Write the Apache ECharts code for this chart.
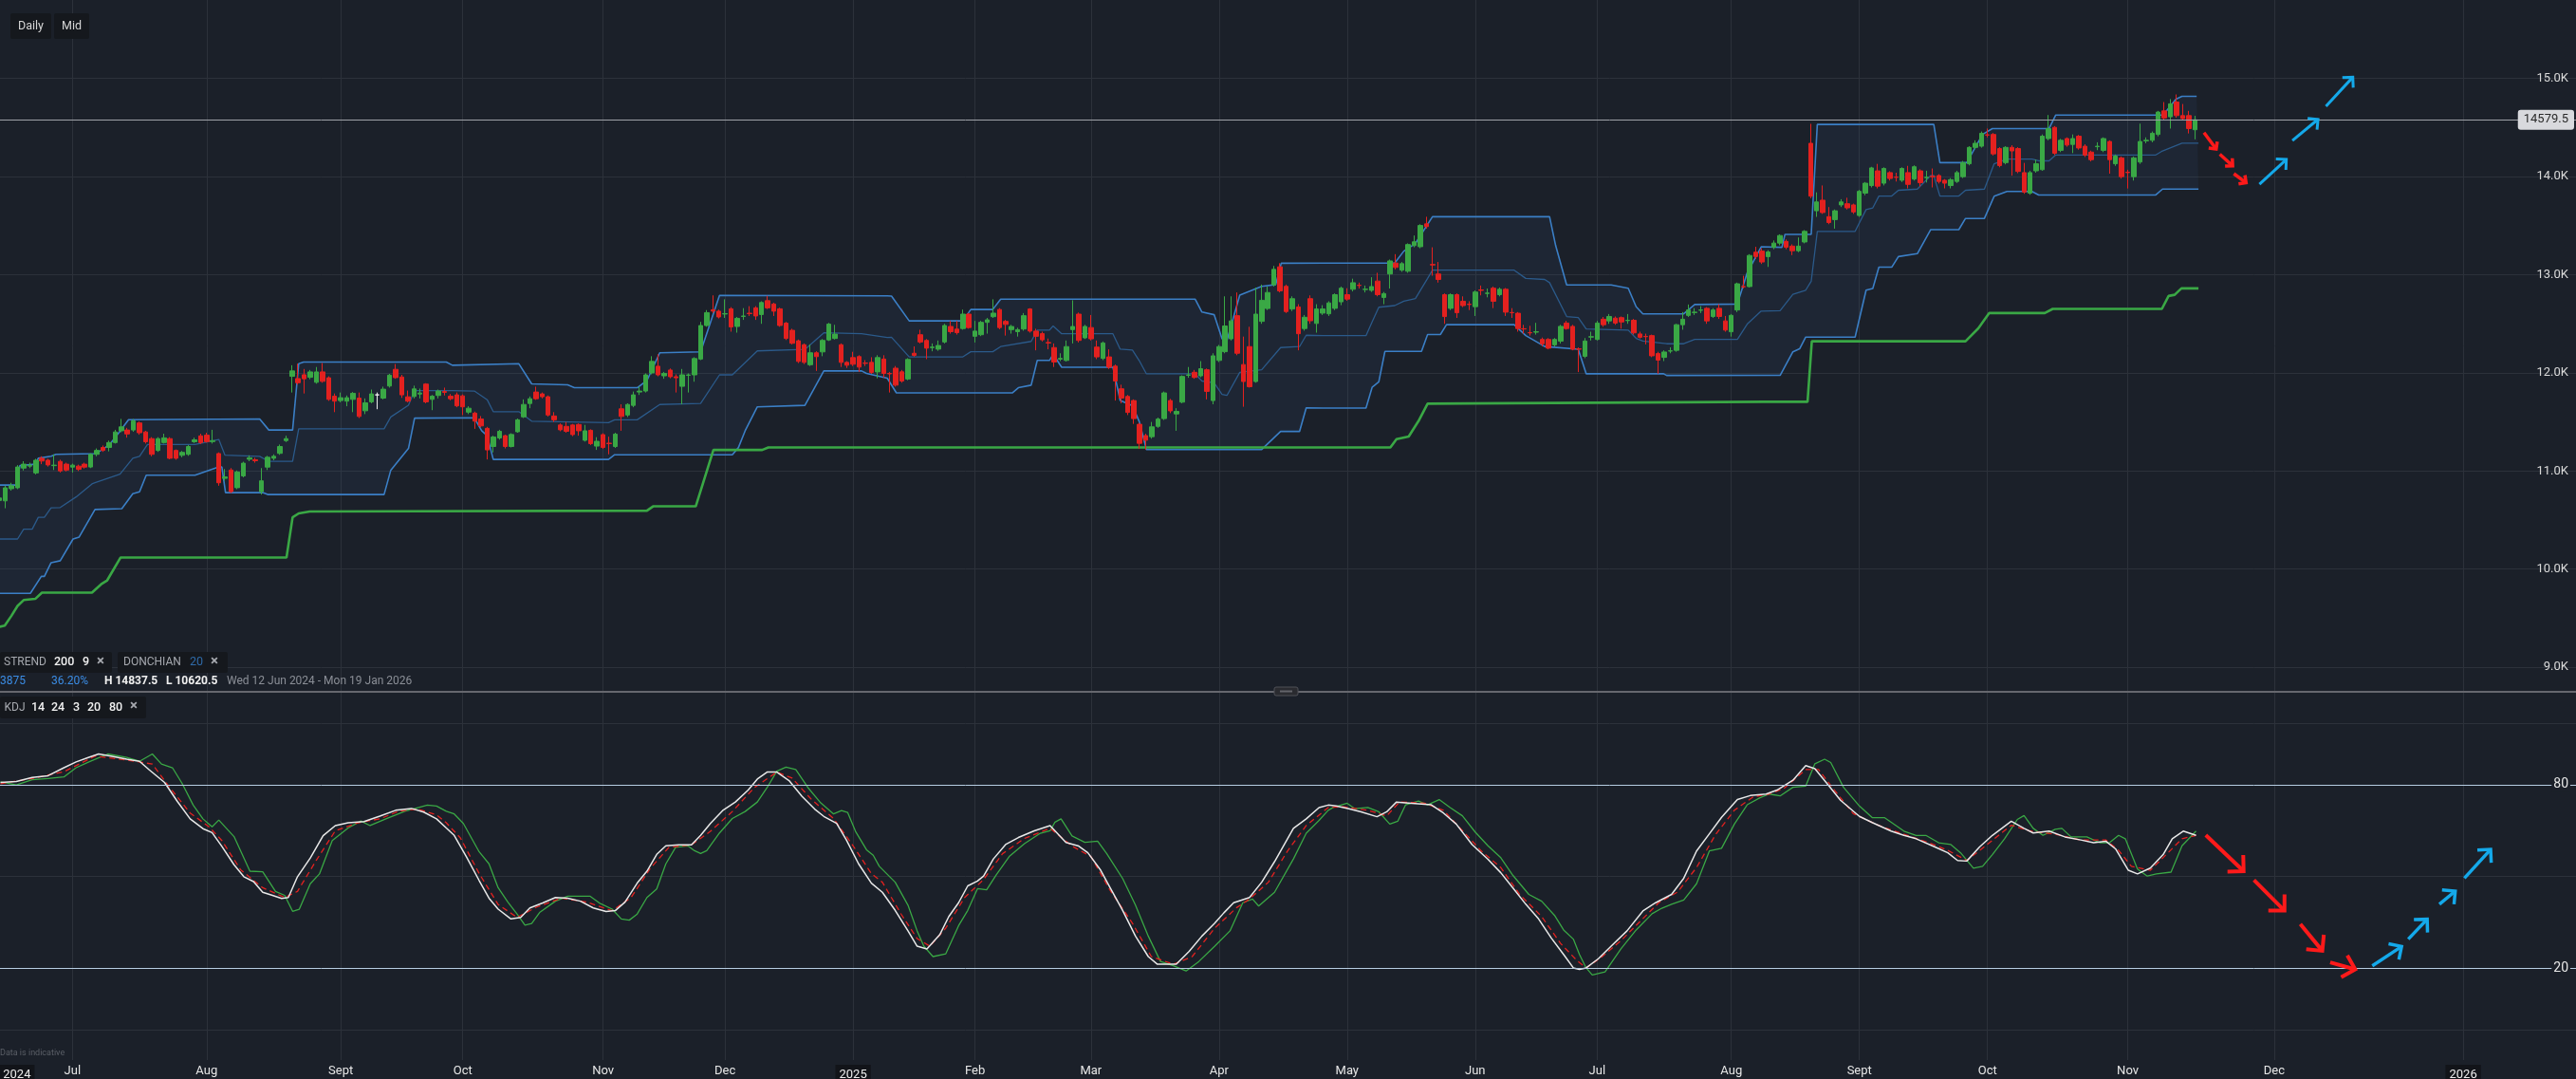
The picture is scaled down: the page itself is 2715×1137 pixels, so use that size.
<!DOCTYPE html>
<html>
<head>
<meta charset="utf-8">
<title>Daily Mid - STREND / DONCHIAN / KDJ</title>
<script src="https://cdn.jsdelivr.net/npm/echarts@6/dist/echarts.min.js"></script>
<style>
  html, body { margin: 0; padding: 0; background: #1b2029; }
  #chart { width: 2715px; height: 1137px; }
</style>
</head>
<body>
<div id="chart"></div>
<script>
// axis calendar: trading days up to the last candle, then plain calendar days for the projection
const firstDay = '2024-06-12';
const lastCandleDay = '2025-11-18';
const lastAxisDay = '2026-01-19';
const holidays = ['2024-06-19', '2024-07-04', '2024-09-02', '2024-11-28', '2024-12-25', '2025-01-01', '2025-01-09',
  '2025-01-20', '2025-02-17', '2025-04-18', '2025-05-26', '2025-06-19', '2025-07-04', '2025-09-01'];
const monthNames = ['Jan', 'Feb', 'Mar', 'Apr', 'May', 'Jun', 'Jul', 'Aug', 'Sept', 'Oct', 'Nov', 'Dec'];

// daily candles (mid prices), one value per trading day
const opens = [
  10700, 10696, 10820, 10829, 11030, 11050, 10981, 11130, 11110, 11055,
  11098, 11070, 11040, 11050, 11070, 11041, 11170, 11240, 11240, 11290,
  11410, 11418, 11418, 11490, 11398, 11330, 11210, 11290, 11330, 11210,
  11160, 11170, 11298, 11358, 11365, 11300, 11178, 10925, 11010, 10830,
  10950, 11120, 11115, 10790, 11040, 11130, 11180, 11310, 11965, 11942,
  11981, 11955, 11904, 12010, 11950, 11763, 11718, 11712, 11730, 11743,
  11614, 11705, 11776, 11743, 11866, 12036, 11958, 11756, 11760, 11785,
  11886, 11730, 11770, 11810, 11763, 11776, 11766, 11600, 11590, 11530,
  11435, 11250, 11337, 11360, 11250, 11400, 11552, 11688, 11805, 11786,
  11757, 11561, 11469, 11455, 11469, 11474, 11313, 11415, 11254, 11371,
  11284, 11250, 11634, 11571, 11669, 11805, 11815, 12000, 12068, 11970,
  12029, 11961, 11863, 11975, 11980, 12141, 12483, 12643, 12629, 12600,
  12653, 12473, 12575, 12608, 12663, 12595, 12736, 12702, 12653, 12507,
  12434, 12327, 12287, 12083, 12205, 12214, 12336, 12351, 12287, 12107,
  12156, 12166, 12100, 12107, 12010, 12141, 11995, 12048, 12011, 11938,
  12200, 12389, 12331, 12258, 12242, 12315, 12473, 12446, 12452, 12599,
  12373, 12389, 12515, 12573, 12646, 12525, 12441, 12420, 12447, 12651,
  12426, 12400, 12310, 12258, 12140, 12127, 12441, 12599, 12357, 12462,
  12263, 12148, 12163, 12069, 11838, 11760, 11718, 11476, 11361, 11350,
  11455, 11534, 11718, 11582, 11702, 11975, 12006, 11970, 12032, 11718,
  12127, 12216, 12347, 12583, 12085, 12268, 11912, 12525, 12656, 12898,
  13081, 12882, 12651, 12672, 12452, 12756, 12504, 12609, 12602, 12658,
  12724, 12797, 12852, 12893, 12850, 12841, 12936, 12769, 13008, 13119,
  13047, 13036, 13297, 13286, 13519, 13105, 13008, 12797, 12658, 12797,
  12730, 12700, 12675, 12845, 12810, 12863, 12797, 12852, 12615, 12608,
  12450, 12410, 12415, 12341, 12341, 12286, 12324, 12508, 12474, 12245,
  12169, 12365, 12341, 12547, 12530, 12558, 12563, 12533, 12536, 12397,
  12372, 12380, 12197, 12158, 12222, 12230, 12491, 12586, 12615, 12638,
  12658, 12575, 12658, 12530, 12419, 12641, 12880, 12880, 13230, 13241,
  13185, 13280, 13323, 13340, 13292, 13245, 13334, 14340, 13652, 13760,
  13592, 13562, 13712, 13724, 13712, 13604, 13832, 13909, 14059, 13933,
  14041, 13995, 13963, 14041, 13975, 14059, 13990, 14003, 14011, 13963,
  13909, 13951, 14000, 14131, 14298, 14310, 14426, 14430, 14286, 14143,
  14298, 14286, 14041, 13831, 14059, 14071, 14388, 14502, 14268, 14388,
  14328, 14412, 14310, 14250, 14305, 14268, 14358, 14131, 14191, 14045,
  14000, 14149, 14365, 14370, 14430, 14670, 14610, 14760, 14622, 14622, 14478
];
const closes = [
  10725, 10829, 10850, 11041, 11070, 11060, 11110, 11102, 11062, 11060,
  11001, 11010, 11060, 11017, 11040, 11170, 11210, 11210, 11290, 11398,
  11450, 11378, 11510, 11390, 11298, 11170, 11330, 11338, 11130, 11130,
  11190, 11250, 11318, 11290, 11300, 11310, 10880, 10940, 10790, 10990,
  11080, 11135, 11105, 10900, 11140, 11150, 11250, 11330, 12020, 11900,
  11940, 12010, 12010, 11914, 11730, 11712, 11747, 11747, 11792, 11556,
  11695, 11786, 11776, 11834, 11977, 11952, 11776, 11712, 11837, 11795,
  11705, 11763, 11815, 11802, 11737, 11664, 11654, 11640, 11508, 11460,
  11215, 11347, 11405, 11250, 11372, 11522, 11678, 11737, 11737, 11757,
  11571, 11522, 11420, 11405, 11371, 11410, 11410, 11279, 11303, 11240,
  11279, 11376, 11556, 11678, 11776, 11815, 11980, 12117, 11980, 11995,
  11961, 11950, 11980, 11980, 12146, 12483, 12614, 12630, 12570, 12604,
  12468, 12556, 12580, 12604, 12580, 12717, 12663, 12629, 12483, 12351,
  12302, 12117, 12107, 12205, 12166, 12331, 12497, 12395, 12107, 12078,
  12088, 12059, 12098, 12005, 12156, 11995, 11990, 11875, 11917, 12137,
  12179, 12315, 12252, 12263, 12279, 12483, 12420, 12410, 12599, 12462,
  12426, 12515, 12541, 12609, 12462, 12494, 12473, 12441, 12583, 12426,
  12373, 12337, 12305, 12111, 12148, 12268, 12473, 12331, 12473, 12347,
  12163, 12305, 12058, 11917, 11744, 11597, 11534, 11282, 11314, 11450,
  11529, 11796, 11613, 11608, 11964, 11980, 11954, 12043, 11812, 12174,
  12268, 12478, 12530, 12200, 11912, 11859, 12599, 12740, 12819, 13055,
  12835, 12625, 12756, 12399, 12567, 12531, 12651, 12651, 12713, 12797,
  12863, 12752, 12919, 12891, 12852, 12880, 12797, 12808, 13141, 13075,
  13113, 13308, 13336, 13502, 13491, 13100, 12952, 12574, 12797, 12613,
  12686, 12697, 12824, 12841, 12813, 12730, 12852, 12619, 12613, 12452,
  12447, 12408, 12419, 12297, 12252, 12341, 12474, 12452, 12241, 12241,
  12325, 12369, 12508, 12491, 12575, 12508, 12519, 12536, 12408, 12363,
  12369, 12174, 12130, 12213, 12225, 12491, 12547, 12641, 12619, 12641,
  12530, 12641, 12575, 12436, 12586, 12908, 12878, 13197, 13186, 13130,
  13233, 13323, 13400, 13280, 13245, 13292, 13442, 13801, 13742, 13634,
  13532, 13652, 13742, 13682, 13640, 13850, 13933, 14089, 13903, 14083,
  13981, 13993, 14083, 13921, 14101, 13939, 13993, 13999, 13951, 13933,
  13969, 14041, 14143, 14298, 14340, 14442, 14424, 14232, 14113, 14298,
  14262, 14053, 13843, 14041, 14131, 14412, 14490, 14238, 14370, 14322,
  14388, 14292, 14220, 14173, 14310, 14388, 14173, 14209, 14000, 14041,
  14191, 14358, 14370, 14442, 14658, 14598, 14742, 14622, 14592, 14490, 14579.5
];
const highs = [
  10745, 10850, 10880, 11060, 11100, 11085, 11125, 11150, 11125, 11170,
  11115, 11085, 11075, 11065, 11085, 11180, 11230, 11260, 11310, 11420,
  11531, 11440, 11530, 11505, 11410, 11345, 11345, 11380, 11345, 11220,
  11205, 11265, 11340, 11380, 11390, 11420, 11190, 11020, 11030, 11005,
  11095, 11160, 11135, 11030, 11155, 11170, 11270, 11360, 12078, 12094,
  12040, 12030, 12060, 12100, 11965, 11790, 11800, 11770, 11805, 11800,
  11740, 11830, 11800, 11860, 11990, 12090, 11980, 11820, 11870, 11840,
  11895, 11775, 11830, 11850, 11785, 11800, 11780, 11660, 11605, 11560,
  11450, 11360, 11420, 11370, 11385, 11535, 11730, 11760, 11860, 11800,
  11770, 11600, 11485, 11500, 11480, 11485, 11470, 11425, 11345, 11385,
  11350, 11390, 11680, 11690, 11810, 11860, 11995, 12170, 12190, 12010,
  12045, 11985, 12040, 11995, 12160, 12520, 12640, 12790, 12645, 12750,
  12670, 12570, 12660, 12680, 12680, 12730, 12785, 12715, 12665, 12520,
  12450, 12340, 12300, 12290, 12220, 12345, 12510, 12490, 12300, 12120,
  12215, 12180, 12130, 12160, 12180, 12180, 12010, 12070, 12030, 12150,
  12270, 12440, 12345, 12300, 12330, 12500, 12530, 12530, 12645, 12610,
  12530, 12530, 12560, 12750, 12660, 12540, 12490, 12460, 12610, 12660,
  12450, 12420, 12350, 12300, 12200, 12330, 12740, 12615, 12490, 12590,
  12330, 12320, 12240, 12085, 11880, 11775, 11730, 11490, 11380, 11500,
  11545, 11810, 11735, 11640, 11975, 12060, 12030, 12120, 12045, 12200,
  12285, 12780, 12780, 12820, 12370, 12470, 12870, 12900, 12880, 13090,
  13118, 12900, 12780, 12700, 12590, 12790, 12700, 12690, 12730, 12810,
  12880, 12863, 12960, 12920, 12890, 12975, 13020, 12825, 13155, 13210,
  13130, 13320, 13400, 13515, 13591, 13280, 13130, 12810, 12810, 12810,
  12780, 12730, 12840, 12890, 12860, 12880, 12870, 12865, 12660, 12620,
  12490, 12480, 12510, 12360, 12355, 12355, 12490, 12530, 12490, 12260,
  12355, 12420, 12530, 12570, 12600, 12575, 12575, 12600, 12550, 12420,
  12400, 12390, 12215, 12230, 12260, 12500, 12620, 12697, 12660, 12680,
  12670, 12660, 12700, 12580, 12600, 12920, 12990, 13210, 13285, 13270,
  13250, 13350, 13412, 13360, 13310, 13380, 13455, 14538, 13840, 13910,
  13690, 13665, 13770, 13785, 13725, 13865, 13945, 14100, 14130, 14095,
  14055, 14040, 14095, 14110, 14115, 14075, 14060, 14083, 14025, 13975,
  13985, 14060, 14160, 14310, 14370, 14460, 14490, 14445, 14300, 14310,
  14320, 14300, 14140, 14060, 14175, 14430, 14628, 14515, 14385, 14400,
  14430, 14425, 14330, 14265, 14350, 14400, 14370, 14225, 14205, 14070,
  14205, 14540, 14400, 14460, 14670, 14760, 14790, 14837.5, 14740, 14670, 14620
];
const lows = [
  10660, 10620.5, 10800, 10815, 11005, 11030, 10965, 11070, 11045, 11010,
  10985, 10995, 10985, 11000, 11025, 11030, 11150, 11195, 11200, 11280,
  11395, 11340, 11400, 11370, 11280, 11150, 11195, 11280, 11120, 11115,
  11140, 11155, 11285, 11275, 11290, 11280, 10850, 10900, 10775, 10815,
  10935, 11100, 11085, 10760, 11010, 11110, 11165, 11295, 11800, 11880,
  11790, 11935, 11890, 11900, 11715, 11600, 11700, 11660, 11600, 11540,
  11580, 11690, 11630, 11730, 11850, 11940, 11745, 11700, 11740, 11740,
  11690, 11620, 11740, 11770, 11720, 11650, 11570, 11580, 11430, 11445,
  11118, 11190, 11320, 11230, 11240, 11390, 11540, 11640, 11725, 11740,
  11555, 11500, 11405, 11390, 11355, 11360, 11300, 11265, 11215, 11225,
  11170, 11235, 11410, 11550, 11650, 11775, 11800, 11985, 11965, 11940,
  11945, 11800, 11680, 11800, 11910, 12130, 12470, 12610, 12555, 12560,
  12420, 12410, 12540, 12580, 12540, 12500, 12650, 12580, 12470, 12335,
  12290, 12100, 12090, 12070, 12020, 12170, 12325, 12340, 12060, 12050,
  12070, 12010, 12070, 11990, 11945, 11950, 11800, 11860, 11900, 11925,
  12165, 12300, 12140, 12220, 12225, 12300, 12400, 12390, 12440, 12450,
  12310, 12375, 12400, 12560, 12445, 12380, 12400, 12370, 12430, 12410,
  12230, 12320, 12240, 12060, 12120, 12115, 12300, 12310, 12345, 12330,
  12140, 12130, 12040, 11718, 11690, 11570, 11480, 11225, 11219, 11330,
  11440, 11520, 11590, 11410, 11690, 11950, 11940, 11955, 11730, 11680,
  12110, 12200, 12330, 12180, 11655, 11850, 11900, 12500, 12640, 12880,
  12820, 12610, 12630, 12230, 12430, 12500, 12410, 12590, 12580, 12640,
  12690, 12735, 12830, 12860, 12820, 12825, 12780, 12700, 12860, 13055,
  13030, 13020, 13280, 13270, 13470, 12990, 12920, 12500, 12640, 12560,
  12670, 12640, 12580, 12790, 12770, 12660, 12780, 12580, 12560, 12420,
  12400, 12380, 12390, 12270, 12240, 12270, 12300, 12440, 12230, 12008,
  12150, 12330, 12330, 12470, 12500, 12490, 12450, 12500, 12390, 12350,
  12290, 12160, 11991, 12120, 12200, 12215, 12440, 12570, 12590, 12610,
  12500, 12560, 12550, 12420, 12370, 12620, 12860, 12870, 13160, 13110,
  13080, 13260, 13300, 13260, 13200, 13230, 13320, 13780, 13590, 13620,
  13515, 13470, 13690, 13665, 13620, 13590, 13810, 13890, 13880, 13910,
  13960, 13950, 13945, 13880, 13960, 13900, 13940, 13890, 13930, 13880,
  13880, 13935, 13985, 14115, 14280, 14295, 14400, 14215, 14095, 14125,
  14010, 14035, 13825, 13815, 14040, 14060, 14370, 14220, 14250, 14305,
  14240, 14275, 14200, 14155, 14270, 14250, 14030, 14110, 13980, 13879,
  13960, 14130, 14340, 14350, 14410, 14580, 14490, 14600, 14575, 14440, 14380
];

// indicator lines as [candle index, value] bend points
const upperBand = [[0, 10857], [2.8, 10857], [3.4, 11057], [5.9, 11070], [6.4, 11130], [8.5, 11150], [9.3, 11170],
  [15.7, 11178], [16.7, 11210], [18.1, 11270], [19.6, 11390], [21.2, 11523], [42.7, 11531], [44.2, 11418],
  [48.1, 11418], [49.1, 12094], [49.9, 12110], [73.3, 12110], [74.3, 12078], [85.2, 12093], [87.3, 11888],
  [93.2, 11878], [94.3, 11849], [104.6, 11849], [106.2, 11922], [108.3, 12205], [115, 12215], [118.1, 12790],
  [145.6, 12785], [146.3, 12782], [149.2, 12530], [158, 12530], [159.3, 12646], [162.9, 12646], [164.2, 12751],
  [196.1, 12751], [197.2, 12620], [199.2, 12593], [200.5, 12347], [201.3, 12330], [203.4, 12793], [207, 12882],
  [209.3, 12900], [210.2, 13118], [217.1, 13119], [228.8, 13119], [230.3, 13241], [232.2, 13319], [235, 13591],
  [254.2, 13591], [255.2, 13297], [257, 12897], [264.3, 12897], [267.1, 12863], [268.4, 12674], [269.5, 12602],
  [276.2, 12602], [278, 12697], [285, 12702], [286.6, 13019], [288.9, 13285], [292.3, 13280], [292.8, 13412],
  [297.1, 13412], [298.1, 14532], [317.2, 14532], [318.2, 14143], [322.6, 14143], [325.2, 14430], [326.8, 14490],
  [336.1, 14490], [337.2, 14628], [354.8, 14628], [356.9, 14790], [357.9, 14819], [360.3, 14819]];
const middleBand = [[0, 10307], [3, 10307], [4, 10407], [5.4, 10407], [6.4, 10528], [7.4, 10528], [8.5, 10624],
  [10, 10628], [12.6, 10736], [15.2, 10869], [15.7, 10881], [19.8, 10969], [21.9, 11130], [23, 11150], [24.3, 11270],
  [32.1, 11270], [36, 11322], [37, 11162], [42.7, 11150], [44.2, 11098], [48.1, 11098], [49.1, 11430], [63.1, 11430],
  [64.2, 11551], [67.1, 11671], [68.1, 11820], [74.3, 11820], [77.9, 11815], [80, 11727], [81, 11605], [85.2, 11605],
  [87.3, 11508], [99.9, 11493], [100.9, 11522], [104.6, 11522], [108.3, 11678], [115, 11688], [118.1, 11980],
  [120.2, 11980], [124.3, 12224], [132.1, 12239], [135.2, 12409], [141.4, 12400], [145.6, 12361], [146.3, 12363],
  [149.2, 12163], [158, 12163], [159.3, 12216], [162.9, 12216], [164.2, 12268], [169.2, 12321], [170.2, 12436],
  [172.2, 12436], [172.8, 12478], [174.2, 12399], [182.6, 12399], [183.8, 12242], [185.8, 12232], [186.9, 12127],
  [188.1, 11990], [196.1, 11990], [197.2, 11917], [199.2, 11900], [200.5, 11780], [201.3, 11770], [203.4, 12006],
  [207, 12032], [210.1, 12258], [213.2, 12268], [214.3, 12384], [217.1, 12380], [224.1, 12380], [225.1, 12519],
  [226.2, 12669], [228.8, 12686], [230.3, 12730], [232.2, 12758], [234.2, 12963], [235, 13047], [248.4, 13047],
  [250.3, 12963], [253.4, 12952], [254.2, 12919], [257, 12574], [258.9, 12563], [260.2, 12447], [267.1, 12436],
  [268.4, 12352], [269.5, 12324], [273.4, 12297], [276.2, 12297], [278, 12341], [285, 12341], [286.6, 12497],
  [288.9, 12630], [292, 12634], [294.1, 12801], [296.2, 12843], [297.1, 12933], [298.1, 13442], [304.3, 13442],
  [306.1, 13664], [307.2, 13682], [308.2, 13802], [310.3, 13802], [311.4, 13861], [314.5, 13873], [316.7, 14011],
  [317.2, 14011], [318.2, 13802], [321.3, 13802], [322.4, 13861], [325.5, 13873], [327.1, 14131], [329.2, 14179],
  [333.3, 14179], [334.4, 14161], [336.1, 14161], [337.2, 14221], [353.6, 14221], [354.7, 14262], [357.9, 14340],
  [360.6, 14340]];
const lowerBand = [[0, 9753], [5.1, 9753], [6.9, 9926], [7.4, 9926], [8.5, 10066], [10, 10086], [12.1, 10307],
  [13.1, 10327], [15.7, 10608], [20.1, 10616], [21.9, 10768], [23, 10788], [24.1, 10957], [32.1, 10957], [36, 11041],
  [36.5, 11041], [37.1, 10780], [43.2, 10780], [44.1, 10760], [63.1, 10760], [64.2, 11009], [67.1, 11230],
  [68.1, 11539], [77.9, 11542], [79.1, 11410], [80, 11360], [81, 11118], [99.9, 11118], [100.9, 11166],
  [120.2, 11166], [121.2, 11239], [122.3, 11410], [124.3, 11654], [132.1, 11669], [135.2, 12020], [141.4, 12020],
  [142.2, 11995], [145.6, 11946], [147.1, 11796], [166.1, 11796], [167.1, 11849], [169.2, 11875], [170.2, 12127],
  [172.2, 12127], [172.8, 12190], [174.2, 12058], [182.6, 12058], [183.8, 11718], [185.8, 11665], [186.9, 11508],
  [188.1, 11219], [207, 11219], [210.1, 11403], [213.2, 11403], [214.3, 11644], [217.1, 11641], [224.1, 11641],
  [225.1, 11852], [226.2, 11908], [227.2, 12219], [233.2, 12219], [234.2, 12391], [236.3, 12391], [237.3, 12491],
  [248.4, 12491], [250.3, 12380], [253.4, 12269], [258.9, 12241], [260.2, 11991], [272.9, 11991], [273.4, 11974],
  [292, 11975], [294.1, 12215], [295.2, 12245], [296.2, 12365], [304.3, 12365], [306.1, 12843], [307.2, 12861],
  [308.2, 13077], [310.3, 13077], [311.4, 13185], [314.5, 13215], [316.7, 13460], [321.3, 13460], [322.4, 13574],
  [325.5, 13574], [327.1, 13801], [329.2, 13849], [333.3, 13849], [334.4, 13813], [353.6, 13813], [354.7, 13873],
  [360.6, 13873]];
const superTrend = [[0, 9412], [0.9, 9424], [2, 9525], [3, 9625], [4, 9685], [5.9, 9697], [7, 9761], [15.2, 9761],
  [16.7, 9846], [17.7, 9886], [19.9, 10119], [47.1, 10119], [48.1, 10528], [49.1, 10568], [50.9, 10588],
  [106.2, 10596], [107.2, 10640], [114.2, 10640], [117.1, 11215], [125.1, 11215], [126.1, 11240], [228.1, 11241],
  [229.1, 11324], [231.1, 11352], [232.7, 11508], [234.2, 11686], [289.4, 11706], [296.5, 11706], [297.2, 12322],
  [322.4, 12322], [324.5, 12454], [326.3, 12610], [335.4, 12610], [336.7, 12652], [354.6, 12652], [355.7, 12784],
  [356.7, 12796], [357.8, 12861], [360.6, 12861]];

// KDJ 14 24 3 lines
const kdjK = [[0.2, 80.7], [2.8, 81], [5.4, 82.3], [8, 82.9], [10.6, 85.5], [12.6, 87.4], [14.7, 88.9], [16.3, 90],
  [18.3, 89.3], [20.9, 88.3], [23, 87.6], [24.6, 84.8], [27.1, 80.7], [29.2, 74.5], [31.3, 68.8], [33.4, 65.6],
  [34.9, 64.3], [36.5, 59.8], [38.5, 53.8], [40.1, 49.9], [41.7, 48.3], [43.2, 44.8], [44.8, 43.8], [46.3, 42.8],
  [47.4, 43.1], [48.9, 49.9], [51, 56], [53.1, 63.3], [55.1, 66.6], [57.2, 67.5], [59.8, 67.9], [62.4, 69.7],
  [65, 71.6], [67.6, 72.2], [69.6, 71], [71.7, 68.8], [73.3, 65.8], [74.6, 63.4], [76.6, 56.4], [78.7, 48.6],
  [80.3, 42.9], [81.8, 39.3], [83.9, 36.1], [85.5, 36.6], [87, 39.7], [89.1, 41.3], [91.2, 43.1], [93.2, 42.9],
  [95.3, 41.9], [97.4, 39.7], [99.5, 38.5], [101, 38.8], [102.6, 41.6], [104.6, 47.8], [106.2, 51.7], [107.8, 57.2],
  [109.3, 60], [111.4, 60.3], [113.5, 60.3], [115, 63.4], [116.6, 67.3], [118.6, 71.5], [120.7, 74.3], [122.8, 78.2],
  [124.3, 81.8], [125.9, 84.1], [127.5, 84.1], [129.5, 81.3], [131.6, 76.2], [133.7, 72], [135.2, 69.6],
  [137.3, 67.3], [138.9, 61.9], [140.9, 54.1], [143, 47.8], [144.8, 44.8], [146.9, 38.9], [149, 32.2], [150.5, 27.2],
  [152.1, 26.3], [154.2, 30.9], [155.7, 36.9], [157.3, 41.4], [158.8, 46.9], [160.4, 48.5], [161.4, 50.1], [163, 55.7],
  [165, 60.4], [167.1, 62.7], [169.7, 64.9], [172.3, 66.6], [174.9, 61.1], [177, 59.9], [178.5, 57.7], [180.6, 52],
  [182.1, 46.5], [184.2, 38.9], [186.3, 30.5], [188.4, 23.8], [189.9, 21.3], [191.5, 21.3], [193, 21.3],
  [195.1, 25.5], [197.2, 30.5], [199.3, 34.7], [200.8, 38.1], [202.4, 41.4], [205, 43.1], [207, 48.1], [209.1, 54.8],
  [212.2, 65.7], [214.3, 68.8], [216.4, 72.5], [217.9, 73.3], [219.2, 73], [221.3, 72.1], [223.3, 71.1],
  [225.9, 69.5], [227.5, 71.1], [229.1, 74.3], [231.6, 73.9], [234.8, 73.4], [236.8, 70.7], [238.9, 67.1],
  [241.5, 60.4], [244.1, 55.6], [246.2, 51.2], [248.2, 46.2], [250.3, 40.9], [252.4, 36.1], [254.5, 29.8],
  [256.5, 24.5], [258.1, 20.1], [259.1, 19.6], [260.2, 20.1], [262.2, 23.1], [264.3, 27.2], [266.9, 32.2],
  [269.5, 38.7], [271.6, 41.4], [274.2, 44.1], [276.2, 49.4], [278.3, 58.3], [280.4, 63.9], [282.4, 69.3],
  [285, 75.1], [287.1, 76.4], [289.7, 76.9], [291.5, 78.2], [294.1, 81.4], [296.2, 86.2], [297.7, 85.2],
  [299.8, 80.1], [301.9, 74.9], [305, 69.6], [307.1, 67.6], [310.2, 64.8], [312.3, 63.4], [314.3, 62.3],
  [317.4, 59.6], [319.5, 57.7], [321.1, 55.2], [322.6, 55], [324.7, 59.6], [326.8, 63.4], [329.9, 68], [332, 65.7],
  [333.5, 64.2], [336.1, 64.8], [338.7, 62.9], [341.3, 61.9], [343.4, 61], [345.4, 61.5], [347, 59], [349.1, 52],
  [350.6, 50.8], [352.7, 52.7], [354.8, 57.1], [356.3, 62.3], [358.1, 64.8], [360.2, 63.4]];
const kdjD = [[0.2, 80.3], [5.4, 82], [10.6, 84.2], [15.7, 89.3], [20.9, 88], [25.1, 86.7], [27.7, 79.7],
  [31.3, 70.7], [34.4, 66.2], [36.5, 61.7], [39.6, 52.1], [43.2, 46.3], [46.8, 43.1], [48.9, 45.1], [52, 55.3],
  [55.1, 64.9], [58.8, 67.5], [62.4, 68.8], [65.5, 71.3], [68.6, 72], [71.7, 70.1], [73.3, 67.5], [75.6, 62.6],
  [78.7, 50.9], [81.8, 40.8], [84.9, 36.6], [88.1, 40], [92.2, 42.9], [96.3, 41.6], [100.5, 38.8], [103.6, 43.1],
  [106.7, 52.5], [109.8, 59.5], [113.5, 60.3], [116.6, 64.7], [120.2, 71.2], [123.8, 79], [127.5, 84.1], [130, 82.1],
  [133.2, 75.1], [136.8, 68.9], [139.9, 60.3], [143, 50.9], [144.8, 48.1], [147.9, 37.6], [150.5, 29.7],
  [152.6, 27.2], [155.2, 33.1], [158.3, 43.1], [161.4, 49], [164.5, 57.4], [168.1, 62.4], [172.3, 65.7],
  [175.9, 59.9], [179, 56.5], [182.1, 45.6], [185.8, 34.7], [188.9, 23.8], [192.5, 21.3], [195.6, 23.8],
  [199.3, 33.1], [202.9, 39.8], [205, 42.6], [208.1, 48.1], [211.2, 58.2], [214.3, 66.6], [217.9, 72.5],
  [220.2, 72.8], [224.4, 71.6], [227.5, 69.8], [229.6, 74.3], [233.7, 73.9], [236.8, 71.6], [239.9, 65], [243, 58.3],
  [246.2, 52.9], [249.3, 44.1], [252.9, 36.9], [256, 28.1], [258.6, 22.7], [260.2, 20.1], [262.7, 23.6],
  [265.9, 29], [269, 35.2], [272.1, 41.4], [275.2, 44.9], [278.3, 52.9], [281.4, 63.6], [284.5, 71.6], [287.6, 76],
  [290.2, 76.9], [292.6, 78.7], [296.2, 84.9], [298.3, 84.9], [300.9, 78.2], [304, 70.5], [308.1, 66.7],
  [312.3, 63.8], [316.4, 61], [319.5, 58.5], [322.6, 55.2], [325.7, 60], [329.9, 66.7], [333, 64.8], [337.1, 63.8],
  [341.3, 61.9], [345.4, 61.9], [347.5, 58.5], [349.6, 53.3], [352.7, 52], [355.8, 58.1], [357.9, 62.3],
  [360.2, 63.4]];
const kdjJ = [[0.2, 80.9], [2.8, 79.9], [5.4, 81.6], [8, 82], [10.6, 82.5], [12.6, 85.5], [14.7, 87.4], [17.8, 90],
  [20.9, 88.9], [23, 87.6], [25.1, 90], [26.6, 86.7], [28.4, 85.5], [30, 80.3], [31.8, 73.3], [33.4, 68.8],
  [34.9, 66.2], [36, 68.4], [38.5, 63], [41.1, 51.7], [43.2, 51.5], [45.3, 45.1], [46.8, 43.8], [48.1, 38.6],
  [49.2, 39.3], [51, 47.6], [52.5, 50.8], [54.6, 61.7], [57.2, 65.8], [59.3, 68.1], [60.8, 66.6], [63.4, 68.8],
  [66.5, 71.3], [70.2, 73.3], [71.7, 73], [73.3, 71.3], [74.6, 70.4], [76.1, 67.3], [78.7, 58], [80.3, 54.1],
  [81.8, 46.3], [83.4, 41.6], [84.9, 37.7], [86.2, 34.1], [87.3, 34.6], [88.6, 38.2], [91.2, 41.9], [93.2, 43.5],
  [96.9, 43.5], [98.4, 41.3], [100.5, 39.3], [102, 36.1], [103.3, 35.7], [104.6, 37.7], [106.2, 43.1], [107.8, 45.9],
  [109.3, 54.1], [110.9, 59.5], [112.9, 60], [114, 58.4], [115, 57.5], [116, 58.4], [118.1, 64.2], [120.2, 68.9],
  [122.3, 71.2], [124.3, 74.3], [125.9, 79], [127.5, 84.4], [129, 85.7], [130.6, 84.9], [132.6, 79], [134.7, 74],
  [136.8, 70.4], [138.1, 71.5], [139.1, 70.9], [140.4, 64.7], [142.2, 58.7], [143.3, 56.9], [144.3, 53.3],
  [146.9, 48.1], [149, 40.6], [150.5, 32.2], [151.6, 27.2], [153.1, 23.8], [155.2, 24.7], [157.3, 33.9],
  [158.8, 38.9], [160.4, 46], [161.9, 45.6], [163.5, 50.6], [165.6, 56.5], [168.1, 60.7], [170.7, 64.1],
  [172.3, 64.9], [173.1, 67.7], [174.1, 68.8], [175.9, 63.2], [178, 61.1], [180.1, 61.5], [181.6, 57.4],
  [184.2, 49.3], [186.3, 40.6], [188.4, 30.5], [190.4, 22.2], [192.5, 20.8], [194.6, 19.1], [196.7, 22.2],
  [199.3, 27.2], [201.8, 32.2], [203.9, 41.4], [205.5, 42.6], [206.5, 40.3], [209.1, 44.8], [212.2, 55.7],
  [214.3, 64.1], [216.4, 68.3], [217.9, 71.6], [218.7, 72.5], [221, 73.9], [222.3, 72.1], [224.4, 72.5],
  [226.2, 71.1], [228, 67.1], [229.3, 68], [230.6, 73.4], [232.7, 74.6], [234.2, 73.4], [236.1, 75.1],
  [237.9, 72.5], [239.9, 69.8], [242, 64.5], [244.1, 60], [246.2, 56.1], [248.2, 50.3], [250.8, 44.1],
  [252.9, 41.9], [255, 37.3], [256.5, 32.5], [258.1, 29.5], [259.1, 24.5], [260.2, 20.1], [261.2, 17.8],
  [263.3, 18.8], [265.9, 26.3], [268.4, 32.5], [271, 37.8], [272.6, 39.6], [274.2, 40.9], [276.2, 42.3],
  [278.3, 47.6], [280.4, 58.3], [282.4, 59.2], [284.5, 67.1], [286.6, 73.4], [288.7, 75.7], [290.2, 76.9],
  [292, 76.3], [294.1, 79.1], [296.2, 79.5], [297.7, 86.8], [299.3, 88.3], [300.3, 87.2], [302.4, 79.1], [305, 73],
  [307.1, 69.2], [309.1, 69.2], [312.3, 64.8], [314.3, 63.4], [315.9, 63.4], [318, 61], [320, 60.4], [321.6, 57.7],
  [323.7, 52.7], [325.2, 53.3], [326.8, 57.1], [328.8, 62.3], [330.9, 68.6], [332, 69.9], [333.5, 65.7],
  [335.1, 63.4], [337.1, 65.4], [338.2, 65.7], [339.7, 62.9], [342.3, 62.9], [344.4, 61], [346, 61], [347.5, 63.4],
  [348.6, 62.3], [350.6, 52.4], [352.2, 50.1], [353.7, 50.8], [356.1, 51.4], [357.9, 60], [360.2, 64.8]];

// hand-drawn projection arrows: [x1, y1, x2, y2] in candle index / value
const priceArrowsDown = [[361.5, 14448, 363.5, 14281], [364.1, 14229, 366.2, 14110], [366.4, 14030, 368.4, 13938]];
const priceArrowsUp = [[370.6, 13923, 375, 14175], [376, 14368, 380.2, 14584], [381.5, 14716, 385.9, 15013]];
const kdjArrowsDown = [[361.8, 63.5, 368, 51.7], [369.7, 48.8, 374.7, 38.8], [377.3, 34.4, 380.9, 25.7],
  [382.2, 21.9, 386.3, 19.6]];
const kdjArrowsUp = [[389.1, 20.8, 393.9, 27.1], [395, 29.5, 398.1, 36], [400.1, 40.9, 402.7, 45.2],
  [404.2, 49.4, 408.5, 58.8]];

const FONT = 'Roboto, "Noto Sans", "DejaVu Sans", sans-serif';
const BG = '#1b2029';
const GRID = '#2c313a';
const UP = '#3aa845';
const DOWN = '#e3211f';

// build the category list
function iso(d) { return d.toISOString().slice(0, 10); }
const categories = [];
for (let d = new Date(firstDay + 'T00:00:00Z'); iso(d) <= lastAxisDay; d.setUTCDate(d.getUTCDate() + 1)) {
  const s = iso(d);
  const wd = d.getUTCDay();
  if (s <= lastCandleDay && (wd === 0 || wd === 6 || holidays.indexOf(s) >= 0)) continue;
  categories.push(s);
}
const N = categories.length;

function isMonthStart(i) {
  return i === 0 || categories[i].slice(0, 7) !== categories[i - 1].slice(0, 7);
}
function monthLabel(value, index) {
  const m = +value.slice(5, 7);
  if (index === 0 || m === 1) return '{yr|' + value.slice(0, 4) + '}';
  return monthNames[m - 1];
}

const candles = opens.map(function (o, i) { return [o, closes[i], lows[i], highs[i]]; });
const lastPrice = closes[closes.length - 1];
const hiPrice = Math.max.apply(null, highs);
const loPrice = Math.min.apply(null, lows);

function catAxis(gridIndex, withLabels) {
  return {
    type: 'category', gridIndex: gridIndex, data: categories, boundaryGap: true,
    axisLine: { show: false }, axisTick: { show: false },
    axisLabel: withLabels ? {
      show: true, interval: function (i) { return isMonthStart(i); }, formatter: monthLabel,
      color: '#e6e6e6', fontSize: 13, fontFamily: FONT, margin: 5, alignMinLabel: 'left',
      rich: { yr: { color: '#ececec', fontSize: 13, fontFamily: FONT, backgroundColor: '#121419', padding: [4, 4, 3, 4] } }
    } : { show: false },
    splitLine: {
      show: true, alignWithLabel: true,
      interval: function (i) { return i > 0 && isMonthStart(i); },
      lineStyle: { color: GRID, width: 1 }
    }
  };
}

function overlayLine(name, pts, xi, yi, color, width, type) {
  return {
    type: 'line', name: name, xAxisIndex: xi, yAxisIndex: yi, data: pts, z: 2, silent: true,
    showSymbol: false, symbol: 'none', lineStyle: { color: color, width: width, type: type || 'solid' }
  };
}

function arrowSeries(name, arrows, xi, yi, color, width, head) {
  return {
    type: 'custom', name: name, xAxisIndex: xi, yAxisIndex: yi, z: 10, silent: true,
    data: arrows, encode: { x: [0, 2], y: [1, 3] },
    renderItem: function (params, api) {
      const a = api.coord([api.value(0), api.value(1)]);
      const b = api.coord([api.value(2), api.value(3)]);
      const ang = Math.atan2(b[1] - a[1], b[0] - a[0]);
      const l = [b[0] - head * Math.cos(ang - Math.PI / 4), b[1] - head * Math.sin(ang - Math.PI / 4)];
      const r = [b[0] - head * Math.cos(ang + Math.PI / 4), b[1] - head * Math.sin(ang + Math.PI / 4)];
      const st = { stroke: color, lineWidth: width, fill: null, lineJoin: 'miter' };
      return {
        type: 'group', children: [
          { type: 'line', shape: { x1: a[0], y1: a[1], x2: b[0], y2: b[1] }, style: st },
          { type: 'polyline', shape: { points: [l, b, r] }, style: st }
        ]
      };
    }
  };
}

// static chrome: buttons, legends, divider
function txt(text, x, y, fill, size, weight, align) {
  return {
    type: 'text', x: x, y: y, z: 100, silent: true,
    style: { text: text, fill: fill, font: (weight || 'normal') + ' ' + size + 'px ' + FONT, align: align || 'left', verticalAlign: 'middle' }
  };
}
function box(x, y, w, h, fill) {
  return { type: 'rect', z: 99, silent: true, shape: { x: x, y: y, width: w, height: h, r: 2 }, style: { fill: fill } };
}
const GREY = '#a6a9af';
const WHITE = '#f0f0f0';
const PANEL = '#15181d';
const chrome = [
  box(11, 14, 43, 27, PANEL), txt('Daily', 32.5, 27.5, '#d6d6d6', 12.5, 'normal', 'center'),
  box(57, 14, 37, 27, PANEL), txt('Mid', 75.5, 27.5, '#d6d6d6', 12.5, 'normal', 'center'),
  box(0, 687, 118, 22, PANEL),
  txt('STREND', 4, 698, GREY, 12), txt('200', 57, 698, WHITE, 12.5, '500'), txt('9', 87, 698, WHITE, 12.5, '500'),
  txt('\u00d7', 102, 697, GREY, 15, 'bold'),
  box(124, 687, 116, 22, PANEL),
  txt('DONCHIAN', 130, 698, GREY, 12), txt('20', 200, 698, '#2f6aa8', 12.5), txt('\u00d7', 222, 697, GREY, 15, 'bold'),
  txt('3875', 0, 718, '#3b8de6', 12), txt('36.20%', 54, 718, '#3b8de6', 12),
  txt('H ' + hiPrice.toFixed(1), 110, 718, WHITE, 12, 'bold'), txt('L ' + loPrice.toFixed(1), 175, 718, WHITE, 12, 'bold'),
  txt('Wed 12 Jun 2024 - Mon 19 Jan 2026', 239, 718, '#8b8f97', 12),
  { type: 'rect', z: 98, silent: true, shape: { x: 0, y: 728, width: 2715, height: 2 }, style: { fill: '#66676e' } },
  { type: 'rect', z: 99, silent: true, shape: { x: 1343, y: 724, width: 25, height: 9, r: 2 }, style: { fill: '#2a2b30', stroke: '#4f5057', lineWidth: 1 } },
  { type: 'rect', z: 100, silent: true, shape: { x: 1349, y: 727.5, width: 13, height: 2 }, style: { fill: '#63646b' } },
  box(0, 734, 154, 23, PANEL),
  txt('KDJ', 4.5, 745.5, GREY, 12), txt('14', 33, 745.5, WHITE, 12.5, '500'), txt('24', 54, 745.5, WHITE, 12.5, '500'),
  txt('3', 77, 745.5, WHITE, 12.5, '500'), txt('20', 92, 745.5, WHITE, 12.5, '500'), txt('80', 115, 745.5, WHITE, 12.5, '500'),
  txt('\u00d7', 137, 744.5, GREY, 15, 'bold'),
  txt('Data is indicative', 0, 1109.5, '#5b5f67', 9)
];

const chart = echarts.init(document.getElementById('chart'), null, { renderer: 'canvas' });
const option = {
  backgroundColor: BG,
  animation: false,
  textStyle: { fontFamily: FONT },
  grid: [
    { left: -4, right: 0, top: 0, height: 729, containLabel: false, outerBoundsMode: 'none' },
    { left: -4, right: 0, top: 730, bottom: 20, containLabel: false, outerBoundsMode: 'none' }
  ],
  xAxis: [
    catAxis(0, false),
    catAxis(1, true),
    { type: 'value', gridIndex: 0, min: -0.5, max: N - 0.5, show: false },
    { type: 'value', gridIndex: 1, min: -0.5, max: N - 0.5, show: false }
  ],
  yAxis: [
    {
      type: 'value', gridIndex: 0, position: 'right', min: 8750, max: 15800, splitNumber: 7,
      axisLine: { show: false }, axisTick: { show: false },
      axisLabel: {
        inside: true, color: '#d9d9d9', fontSize: 13, fontFamily: FONT, margin: 8,
        showMinLabel: false, showMaxLabel: false,
        formatter: function (v) { return (v / 1000).toFixed(1) + 'K'; }
      },
      splitLine: { show: true, showMinLine: false, showMaxLine: false, lineStyle: { color: GRID, width: 1 } }
    },
    {
      type: 'value', gridIndex: 1, position: 'right', min: -10, max: 110, splitNumber: 2,
      axisLine: { show: false }, axisTick: { show: false }, axisLabel: { show: false },
      splitLine: { show: true, showMinLine: false, showMaxLine: false, lineStyle: { color: GRID, width: 1 } }
    }
  ],
  series: [
    {
      // shaded Donchian channel
      type: 'custom', name: 'Donchian range', xAxisIndex: 2, yAxisIndex: 0, z: 1, silent: true,
      data: [[0, 12000]],
      renderItem: function (params, api) {
        const pts = upperBand.map(function (p) { return api.coord(p); })
          .concat(lowerBand.slice().reverse().map(function (p) { return api.coord(p); }));
        return { type: 'polygon', shape: { points: pts }, style: { fill: 'rgba(70,130,200,0.07)' } };
      }
    },
    overlayLine('Donchian upper', upperBand, 2, 0, '#3b7fc6', 1.6),
    overlayLine('Donchian middle', middleBand, 2, 0, '#2b5a8a', 1.3),
    overlayLine('Donchian lower', lowerBand, 2, 0, '#3b7fc6', 1.6),
    overlayLine('STREND', superTrend, 2, 0, UP, 2.6),
    {
      type: 'candlestick', name: 'Price', xAxisIndex: 0, yAxisIndex: 0, z: 4, barWidth: 5,
      data: candles,
      itemStyle: {
        color: UP, color0: DOWN, borderColor: UP, borderColor0: DOWN, borderColorDoji: '#eeeeee', borderWidth: 1
      },
      markLine: {
        symbol: ['none', 'none'], silent: true, animation: false,
        lineStyle: { color: '#9ea1a8', width: 1, type: 'solid' },
        label: {
          show: true, position: 'insideEnd', distance: 2, formatter: lastPrice.toFixed(1),
          color: '#2a2a2a', backgroundColor: '#d8d9dd', padding: [4, 6, 4, 6], borderRadius: 3,
          fontSize: 13, fontFamily: FONT
        },
        data: [{ yAxis: lastPrice }]
      }
    },
    arrowSeries('Price down', priceArrowsDown, 2, 0, '#ff1a1a', 3.5, 8),
    arrowSeries('Price up', priceArrowsUp, 2, 0, '#14a9ea', 3, 11),
    overlayLine('J', kdjJ, 3, 1, UP, 1.3),
    overlayLine('D', kdjD, 3, 1, DOWN, 1.3, [6, 4]),
    Object.assign(overlayLine('K', kdjK, 3, 1, '#e8e8e8', 1.5), {
      markLine: {
        symbol: ['none', 'none'], silent: true, animation: false,
        lineStyle: { color: '#b7cde2', width: 1, type: 'solid' },
        label: {
          show: true, position: 'insideEnd', distance: 6, color: '#e6e6e6', fontSize: 14, fontFamily: FONT,
          backgroundColor: BG, padding: [1, 2, 1, 2]
        },
        data: [{ yAxis: 80 }, { yAxis: 20 }]
      }
    }),
    arrowSeries('KDJ down', kdjArrowsDown, 3, 1, '#ff1a1a', 4, 17),
    arrowSeries('KDJ up', kdjArrowsUp, 3, 1, '#14a9ea', 3.5, 14)
  ],
  graphic: chrome
};
chart.setOption(option);
</script>
</body>
</html>
